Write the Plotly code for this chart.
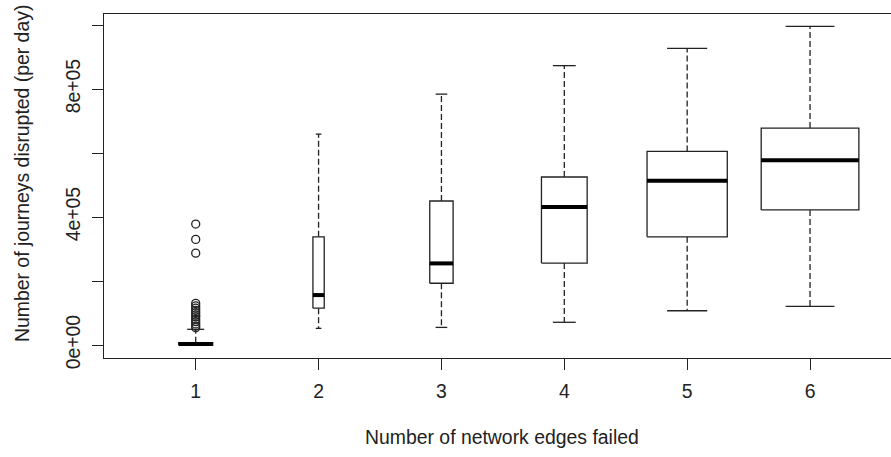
import plotly.graph_objects as go

# ---------------- data ----------------
groups = [1, 2, 3, 4, 5, 6]
lower_whisker = [0, 52000, 55000, 71000, 107000, 121000]
q1 = [0, 115000, 193000, 256000, 338000, 422000]
median = [3000, 156000, 255000, 431000, 513000, 577000]
q3 = [7000, 338000, 450000, 525000, 605000, 678000]
upper_whisker = [49000, 659000, 784000, 873000, 927000, 996000]

outlier_values = [378000, 330000, 287000, 130000, 122000, 115000, 108000,
                  101000, 94000, 88000, 80000, 73000, 66000, 59000, 54000]
outlier_group = [1] * len(outlier_values)

y_tick_values = [0, 200000, 400000, 600000, 800000, 1000000]
y_tick_labels = ["0e+00", "", "4e+05", "", "8e+05", ""]
x_tick_labels = ["1", "2", "3", "4", "5", "6"]

x_title = "Number of network edges failed"
y_title = "Number of journeys disrupted (per day)"

# ---------------- style ----------------
BOX_WIDTHS = [0.277, 0.092, 0.19, 0.372, 0.653, 0.795]  # varwidth-like
INK = "#222222"
FONT = dict(family="Liberation Sans, Arial, sans-serif", size=19.4, color=INK)

bx, by = [], []
mx, my = [], []
wx, wy = [], []
sx, sy = [], []
for c, w, lo, a, m, b, hi in zip(groups, BOX_WIDTHS, lower_whisker, q1, median, q3, upper_whisker):
    l, r = c - w / 2, c + w / 2
    bx += [l, r, r, l, l, None]
    by += [a, a, b, b, a, None]
    mx += [l, r, None]
    my += [m, m, None]
    wx += [c, c, None, c, c, None]
    wy += [b, hi, None, a, lo, None]
    sl, sr = c - w / 4, c + w / 4
    sx += [sl, sr, None, sl, sr, None]
    sy += [hi, hi, None, lo, lo, None]

fig = go.Figure()
fig.add_trace(go.Scatter(x=wx, y=wy, mode="lines", hoverinfo="skip",
                         line=dict(color=INK, width=1.3, dash="6px,3px")))
fig.add_trace(go.Scatter(x=sx, y=sy, mode="lines", hoverinfo="skip",
                         line=dict(color=INK, width=1.3)))
fig.add_trace(go.Scatter(x=bx, y=by, mode="lines", hoverinfo="skip",
                         line=dict(color=INK, width=1.3)))
fig.add_trace(go.Scatter(x=mx, y=my, mode="lines", hoverinfo="skip",
                         line=dict(color="#000000", width=4)))
fig.add_trace(go.Scatter(x=outlier_group, y=outlier_values, mode="markers",
                         marker=dict(symbol="circle-open", size=8,
                                     color=INK, line=dict(width=1.3))))

fig.update_layout(
    width=891, height=457,
    margin=dict(l=104, r=0, t=14, b=99),
    paper_bgcolor="white", plot_bgcolor="white",
    showlegend=False,
    font=FONT,
    xaxis=dict(range=[0.2536, 6.659], tickmode="array", tickvals=groups,
               ticktext=x_tick_labels, ticks="outside", ticklen=11,
               tickwidth=1.3, tickcolor=INK, showline=True, mirror=True,
               linecolor=INK, linewidth=1.3, showgrid=False, zeroline=False,
               ticklabelstandoff=5),
    yaxis=dict(range=[-40625, 1034375], tickmode="array",
               tickvals=y_tick_values, ticktext=y_tick_labels, tickangle=-90,
               ticks="outside", ticklen=11, tickwidth=1.3, tickcolor=INK,
               showline=True, mirror=False, linecolor=INK, linewidth=1.3,
               showgrid=False, zeroline=False, ticklabelstandoff=4),
    annotations=[
        dict(text=x_title, xref="paper", yref="paper", x=0.5, y=0,
             xanchor="center", yanchor="middle", showarrow=False,
             xshift=4.5, yshift=-79, font=FONT),
        dict(text=y_title, xref="paper", yref="paper", x=0, y=0.5,
             xanchor="center", yanchor="middle", textangle=-90,
             showarrow=False, xshift=-82, yshift=12, font=FONT),
    ],
)

# remove the browser's default 8px body margin so the figure sits at (0, 0)
fig.write_html("out.html",
               config={"displayModeBar": False},
               post_script="document.body.style.margin='0px';")
